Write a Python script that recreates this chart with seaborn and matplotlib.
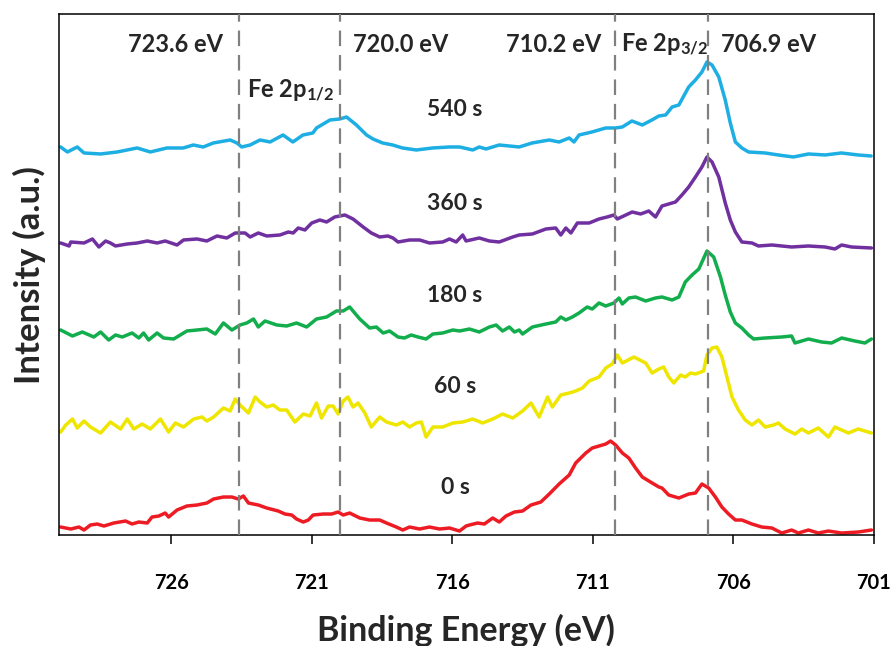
import pandas as pd
import matplotlib
matplotlib.use("Agg")
import matplotlib.pyplot as plt
import seaborn as sns

# style first, fonts after (set_style resets font.family)
sns.set_style("ticks")
plt.rcParams['font.family'] = ['Lato', 'DejaVu Sans']
plt.rcParams['font.weight'] = 'bold'
plt.rcParams['mathtext.fontset'] = 'custom'
plt.rcParams['mathtext.rm'] = 'Lato:bold'
plt.rcParams['mathtext.it'] = 'Lato:bold'
plt.rcParams['mathtext.bf'] = 'Lato:bold'

# --- data: Fe 2p spectra after different sputter times (stacked, a.u.) ---
times = ['540 s', '360 s', '180 s', '60 s', '0 s']
colors = ['#1DAEE4', '#7030A0', '#12AD4C', '#EFE600', '#ED1C24']

e_540 = [729.93, 729.69, 729.34, 729.10, 728.51, 727.92, 727.21, 726.74, 726.15, 725.57,
         725.21, 724.86, 724.50, 723.90, 723.66, 723.49, 723.19, 722.84, 722.48, 722.02,
         721.67, 721.31, 720.96, 720.83, 720.35, 720.00, 719.76, 719.41, 719.05, 718.82,
         718.48, 718.12, 717.77, 717.28, 716.70, 716.10, 715.74, 715.27, 715.04, 714.80,
         714.33, 713.62, 713.16, 712.55, 712.20, 711.84, 711.67, 711.49, 711.03, 710.54,
         710.19, 709.95, 709.61, 709.24, 708.90, 708.65, 708.41, 708.18, 707.94, 707.59,
         707.35, 707.12, 706.94, 706.76, 706.52, 706.29, 706.11, 705.93, 705.70, 705.46,
         704.87, 704.40, 703.87, 703.33, 702.74, 702.16, 701.56, 701.10]
i_540 = [393, 388, 393, 387, 386, 388, 392, 388, 392, 392,
         395, 393, 397, 400, 397, 393, 395, 400, 398, 405,
         398, 405, 407, 412, 420, 421, 423, 415, 405, 401,
         397, 395, 392, 390, 392, 393, 393, 390, 393, 391,
         395, 393, 397, 400, 398, 402, 398, 405, 408, 412,
         412, 413, 419, 415, 420, 424, 425, 433, 435, 453,
         460, 468, 478, 475, 463, 440, 417, 398, 392, 388,
         387, 385, 383, 386, 385, 387, 385, 384]

e_360 = [729.93, 729.63, 729.57, 729.10, 728.80, 728.57, 728.33, 728.16, 727.98, 727.56,
         727.21, 726.85, 726.50, 726.21, 725.79, 725.56, 725.08, 724.73, 724.37, 724.02,
         723.72, 723.37, 723.19, 722.90, 722.60, 722.13, 721.83, 721.66, 721.48, 721.24,
         721.00, 720.71, 720.47, 720.18, 719.82, 719.53, 719.17, 718.88, 718.58, 718.29,
         718.11, 717.93, 717.52, 717.16, 716.81, 716.34, 716.10, 715.86, 715.63, 715.51,
         715.04, 714.68, 714.33, 713.85, 713.62, 713.15, 712.67, 712.32, 712.14, 711.96,
         711.78, 711.55, 711.13, 710.78, 710.49, 710.25, 710.13, 709.60, 709.30, 709.01,
         708.77, 708.54, 708.06, 707.83, 707.59, 707.35, 707.12, 706.94, 706.76, 706.52,
         706.29, 706.11, 705.93, 705.70, 705.34, 705.11, 704.63, 703.93, 703.33, 702.74,
         702.39, 702.15, 701.80, 701.09]
i_360 = [297, 294, 298, 297, 301, 293, 299, 297, 294, 296,
         297, 299, 297, 299, 295, 300, 301, 299, 304, 302,
         307, 307, 303, 307, 304, 305, 308, 307, 312, 310,
         317, 320, 318, 323, 325, 321, 313, 307, 303, 304,
         302, 298, 300, 300, 297, 298, 301, 298, 305, 299,
         302, 299, 298, 303, 305, 306, 311, 312, 305, 312,
         307, 317, 317, 321, 323, 325, 321, 328, 326, 329,
         323, 334, 338, 345, 353, 363, 373, 383, 378, 363,
         337, 320, 308, 298, 297, 294, 295, 293, 294, 293,
         291, 295, 293, 292]

e_180 = [729.93, 729.51, 729.16, 728.75, 728.51, 728.22, 727.98, 727.74, 727.39, 727.15,
         726.98, 726.80, 726.50, 726.27, 725.91, 725.44, 725.08, 724.73, 724.43, 724.14,
         723.84, 723.55, 723.31, 723.07, 722.90, 722.66, 722.24, 721.89, 721.54, 721.18,
         720.83, 720.47, 720.12, 719.88, 719.65, 719.29, 718.94, 718.70, 718.46, 718.23,
         717.93, 717.70, 717.46, 717.22, 716.93, 716.69, 716.34, 715.98, 715.74, 715.39,
         715.04, 714.68, 714.44, 714.21, 713.97, 713.79, 713.62, 713.50, 713.15, 712.67,
         712.32, 712.14, 711.96, 711.73, 711.49, 711.20, 711.02, 710.78, 710.54, 710.25,
         710.07, 709.95, 709.72, 709.48, 709.12, 708.77, 708.54, 708.18, 707.94, 707.71,
         707.47, 707.23, 706.94, 706.70, 706.46, 706.29, 706.11, 705.93, 705.70, 705.46,
         705.28, 704.87, 704.28, 703.93, 703.81, 703.33, 702.86, 702.51, 702.15, 701.68,
         701.32, 701.09]
i_180 = [210, 204, 208, 203, 208, 200, 205, 203, 207, 202,
         207, 200, 207, 202, 201, 209, 210, 211, 206, 217,
         210, 215, 217, 221, 213, 219, 215, 214, 217, 213,
         221, 223, 229, 229, 233, 221, 212, 213, 207, 209,
         203, 202, 205, 203, 201, 206, 207, 210, 209, 211,
         208, 213, 215, 209, 213, 208, 210, 206, 213, 216,
         218, 223, 220, 223, 227, 233, 231, 237, 234, 237,
         242, 236, 242, 243, 239, 242, 243, 240, 243, 258,
         265, 271, 289, 283, 263, 245, 228, 217, 212, 205,
         201, 202, 203, 204, 197, 201, 198, 197, 202, 199,
         197, 201]

e_60 = [729.93, 729.75, 729.51, 729.34, 729.10, 728.87, 728.51, 728.16, 727.80, 727.56,
        727.33, 727.03, 726.74, 726.38, 726.09, 725.85, 725.56, 725.20, 724.90, 724.73,
        724.49, 724.14, 723.90, 723.72, 723.55, 723.25, 723.01, 722.84, 722.60, 722.37,
        722.13, 721.89, 721.60, 721.30, 721.06, 720.83, 720.65, 720.41, 720.24, 720.06,
        719.88, 719.71, 719.53, 719.35, 719.11, 718.88, 718.58, 718.34, 717.99, 717.76,
        717.52, 717.28, 717.10, 716.93, 716.69, 716.34, 715.98, 715.63, 715.27, 714.92,
        714.56, 714.21, 713.85, 713.50, 713.20, 712.91, 712.61, 712.44, 712.14, 711.84,
        711.61, 711.37, 711.13, 710.78, 710.54, 710.31, 710.13, 709.95, 709.54, 709.12,
        708.89, 708.65, 708.48, 708.30, 708.12, 707.88, 707.71, 707.53, 707.35, 707.06,
        706.94, 706.76, 706.59, 706.41, 706.23, 706.05, 705.82, 705.58, 705.34, 705.11,
        704.87, 704.57, 704.40, 704.16, 703.81, 703.57, 703.33, 702.98, 702.62, 702.39,
        701.91, 701.56, 701.09]
i_60 = [108, 115, 121, 112, 119, 113, 107, 118, 111, 121,
        111, 116, 111, 121, 108, 117, 113, 121, 123, 119,
        123, 132, 129, 141, 135, 127, 143, 138, 133, 135,
        130, 130, 118, 126, 124, 137, 122, 134, 134, 126,
        139, 143, 133, 137, 127, 113, 123, 118, 115, 118,
        113, 117, 118, 103, 113, 113, 117, 118, 121, 117,
        121, 126, 122, 129, 137, 123, 143, 133, 145, 147,
        149, 152, 159, 163, 172, 176, 185, 177, 183, 177,
        167, 171, 173, 163, 157, 165, 163, 167, 166, 169,
        185, 192, 193, 183, 163, 143, 130, 120, 115, 120,
        113, 115, 117, 111, 106, 111, 107, 112, 103, 113,
        107, 111, 107]

e_0 = [729.93, 729.57, 729.28, 729.10, 728.87, 728.63, 728.39, 728.04, 727.62, 727.39,
       727.15, 726.85, 726.68, 726.44, 726.21, 726.09, 725.79, 725.44, 725.08, 724.73,
       724.49, 724.14, 723.84, 723.61, 723.43, 723.25, 722.90, 722.60, 722.19, 721.95,
       721.71, 721.54, 721.30, 721.12, 720.95, 720.59, 720.29, 720.06, 719.88, 719.65,
       719.29, 718.94, 718.58, 718.34, 717.99, 717.76, 717.52, 717.16, 716.81, 716.45,
       716.10, 715.74, 715.51, 715.39, 715.10, 714.86, 714.56, 714.33, 714.09, 713.79,
       713.50, 713.20, 712.85, 712.55, 712.20, 711.84, 711.61, 711.25, 711.02, 710.78,
       710.54, 710.37, 710.19, 709.95, 709.72, 709.48, 709.24, 708.89, 708.65, 708.54,
       708.30, 707.94, 707.59, 707.35, 707.12, 706.88, 706.64, 706.41, 706.17, 705.93,
       705.70, 705.34, 704.99, 704.63, 704.28, 703.93, 703.69, 703.33, 702.98, 702.62,
       702.15, 701.56, 701.09]
i_0 = [13, 11, 13, 10, 15, 16, 14, 17, 19, 16,
       18, 17, 23, 24, 27, 23, 30, 34, 35, 37,
       41, 43, 43, 41, 44, 37, 35, 32, 29, 26,
       25, 21, 18, 20, 25, 26, 26, 28, 25, 27,
       22, 20, 20, 17, 13, 10, 13, 11, 13, 11,
       12, 9, 14, 15, 17, 16, 22, 18, 24, 28,
       29, 35, 38, 46, 56, 65, 77, 87, 92, 94,
       96, 99, 95, 87, 82, 72, 63, 57, 53, 52,
       45, 42, 46, 47, 56, 52, 43, 33, 26, 20,
       20, 16, 13, 12, 7, 10, 7, 10, 7, 9,
       7, 8, 10]

peak_positions = [723.6, 720.0, 710.2, 706.9]
peak_labels = ['723.6 eV', '720.0 eV', '710.2 eV', '706.9 eV']
x_ticks = [726, 721, 716, 711, 706, 701]

# long-form table for seaborn
energies = [e_540, e_360, e_180, e_60, e_0]
intensities = [i_540, i_360, i_180, i_60, i_0]
frames = []
for t, e, i in zip(times, energies, intensities):
    frames.append(pd.DataFrame({'energy': e, 'intensity': i, 'time': t}))
df = pd.concat(frames, ignore_index=True)

fig = plt.figure(figsize=(8.96, 6.46), dpi=100)
ax = fig.add_axes([0.0655, 0.1718, 0.9099, 0.8058])

sns.lineplot(data=df, x='energy', y='intensity', hue='time', hue_order=times,
             palette=colors, estimator=None, sort=False, linewidth=2.5,
             legend=False, ax=ax)

# dashed reference lines at the peak positions
for p in peak_positions:
    ax.axvline(p, color='#808080', linestyle=(0, (7, 4)), linewidth=1.6, zorder=3)

ax.set_xlim(730, 701)
ax.set_ylim(5, 525.5)
ax.set_xticks(x_ticks)
ax.set_xticklabels([str(t) for t in x_ticks])
ax.set_yticks([])
ax.tick_params(axis='x', direction='out', length=6.5, width=1.1, pad=21,
               labelsize=14.5, colors='black')
for s in ax.spines.values():
    s.set_linewidth(1.1)
    s.set_color('black')

ax.set_xlabel('Binding Energy (eV)', fontsize=24.5, fontweight='bold', labelpad=15)
ax.set_ylabel('Intensity (a.u.)', fontsize=25, fontweight='bold', labelpad=9)

# peak position labels along the top
label_x = [725.85, 717.82, 712.38, 704.75]
for xpos, txt in zip(label_x, peak_labels):
    ax.text(xpos, 488, txt, ha='center', va='baseline', fontsize=17, fontweight='bold')
ax.text(708.46, 488, r'Fe 2p$_{3/2}$', ha='center', va='baseline', fontsize=17, fontweight='bold')
ax.text(721.74, 442, r'Fe 2p$_{1/2}$', ha='center', va='baseline', fontsize=17, fontweight='bold')

# sputter time labels
time_y = [424, 330, 238, 147, 46]
for t, ty in zip(times, time_y):
    ax.text(715.9, ty, t, ha='center', va='baseline', fontsize=16.5, fontweight='bold')

fig.savefig('out.png', dpi=100)
